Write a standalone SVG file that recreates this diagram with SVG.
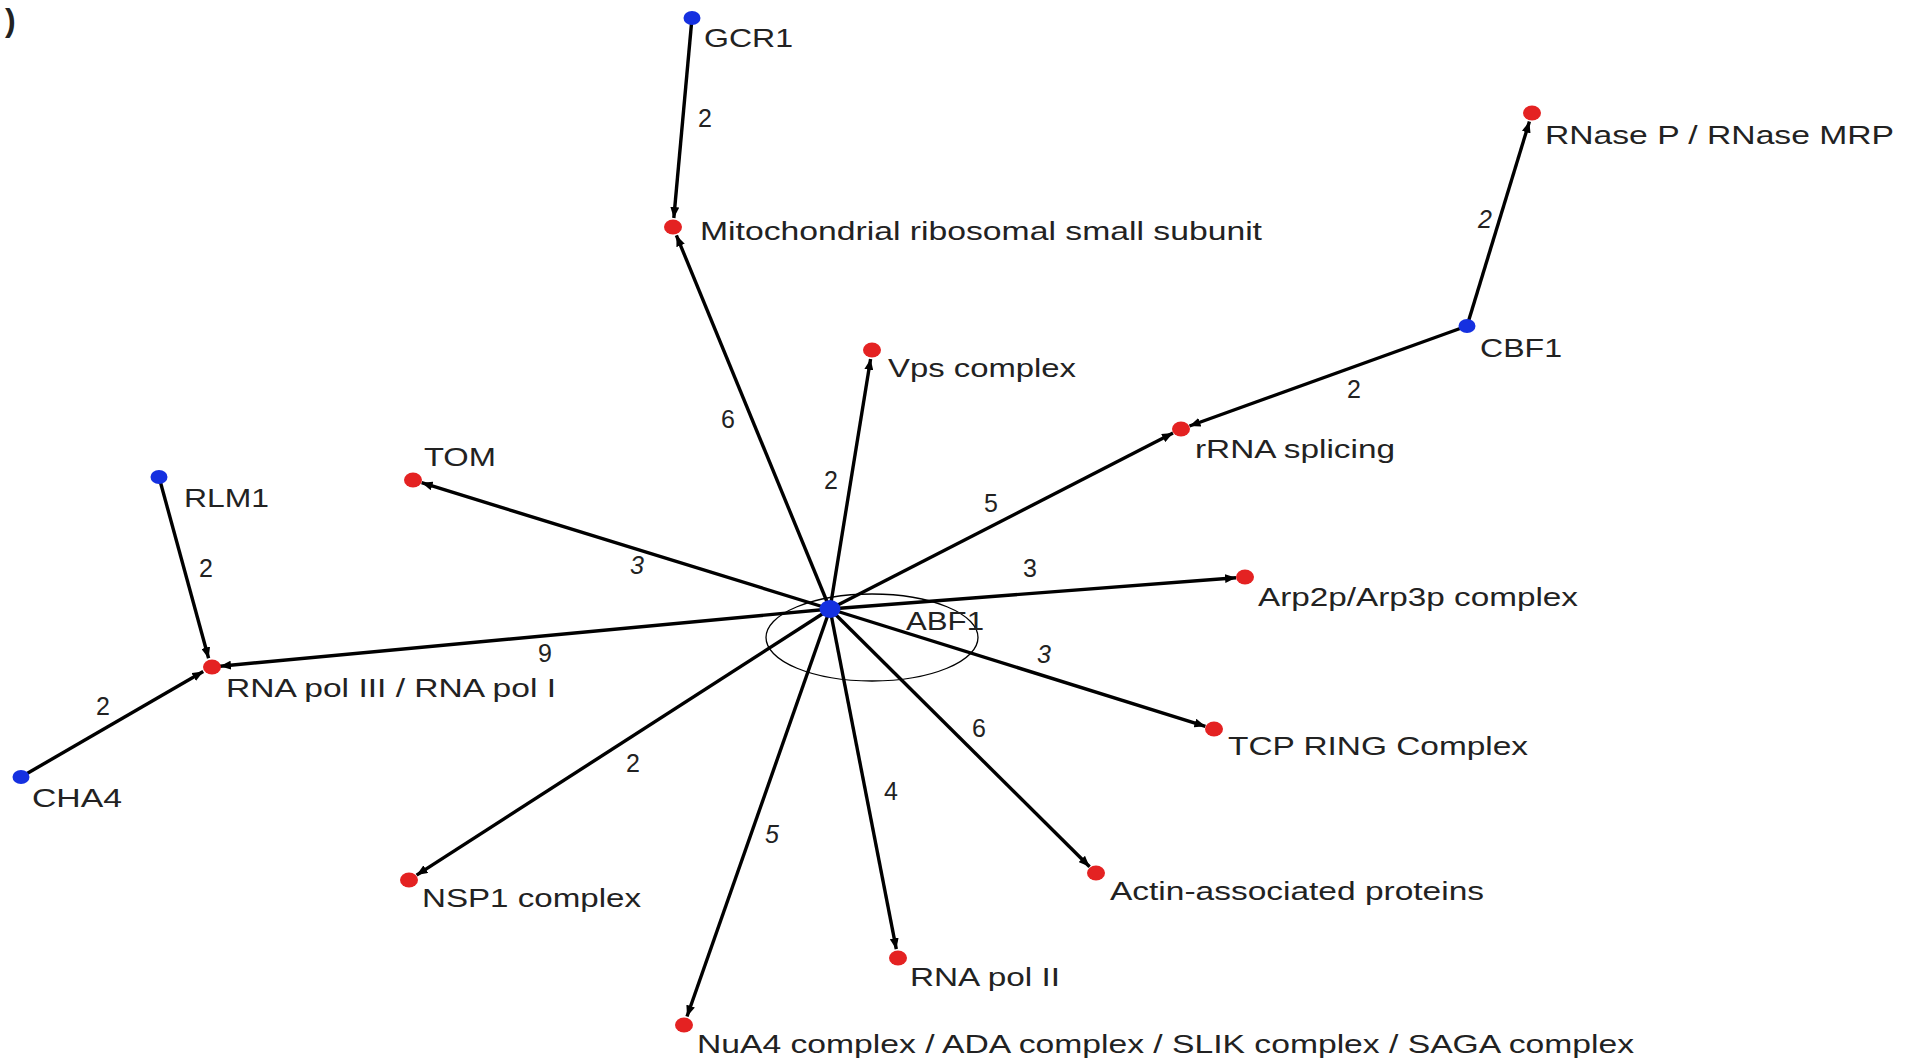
<svg xmlns="http://www.w3.org/2000/svg" width="1910" height="1059" viewBox="0 0 1910 1059">
<style>
.bg{fill:#ffffff}
.edge{stroke:#000;stroke-width:3.4;fill:none;marker-end:url(#arr)}
.tf{fill:#1530e0}
.cx{fill:#e42222}
.lbl{font-family:"Liberation Sans",Arial,sans-serif;font-size:25px;fill:#222}
.num{font-family:"Liberation Sans",Arial,sans-serif;font-size:25px;fill:#222;text-anchor:middle}
.it{font-style:italic}
.hl{fill:none;stroke:#000;stroke-width:1.3}
</style>
<defs>
<marker id="arr" markerUnits="userSpaceOnUse" markerWidth="11" markerHeight="9" refX="11" refY="4.5" orient="auto">
<path d="M0,0 L11,4.5 L0,9 z" fill="#000"/>
</marker>
</defs>
<rect class="bg" x="0" y="0" width="1910" height="1059"/>
<text class="lbl" x="5" y="31" style="font-size:32px;font-weight:bold">)</text>
<g id="connectors">
<line class="edge" x1="692" y1="18" x2="673.8" y2="218"/>
<line class="edge" x1="830" y1="609" x2="676.4" y2="235.3"/>
<line class="edge" x1="830" y1="609" x2="870.6" y2="358.9"/>
<line class="edge" x1="830" y1="609" x2="1173" y2="433.1"/>
<line class="edge" x1="1467" y1="326" x2="1189.5" y2="426"/>
<line class="edge" x1="1467" y1="326" x2="1529.4" y2="121.6"/>
<line class="edge" x1="830" y1="609" x2="421.6" y2="482.7"/>
<line class="edge" x1="159" y1="477" x2="208.6" y2="658.3"/>
<line class="edge" x1="830" y1="609" x2="220" y2="666.2"/>
<line class="edge" x1="21" y1="777" x2="203.2" y2="671.5"/>
<line class="edge" x1="830" y1="609" x2="1236" y2="577.7"/>
<line class="edge" x1="830" y1="609" x2="1205.4" y2="726.3"/>
<line class="edge" x1="830" y1="609" x2="1089.6" y2="866.7"/>
<line class="edge" x1="830" y1="609" x2="896.3" y2="949.2"/>
<line class="edge" x1="830" y1="609" x2="687" y2="1016.5"/>
<line class="edge" x1="830" y1="609" x2="416.6" y2="875.1"/>
<text class="num" x="705" y="127">2</text>
<text class="num" x="728" y="428">6</text>
<text class="num" x="831" y="489">2</text>
<text class="num" x="991" y="512">5</text>
<text class="num" x="1354" y="398">2</text>
<text class="num it" x="1485" y="228">2</text>
<text class="num it" x="637" y="574">3</text>
<text class="num" x="206" y="577">2</text>
<text class="num" x="545" y="662">9</text>
<text class="num" x="103" y="715">2</text>
<text class="num" x="1030" y="577">3</text>
<text class="num it" x="1044" y="663">3</text>
<text class="num" x="979" y="737">6</text>
<text class="num" x="891" y="800">4</text>
<text class="num it" x="772" y="843">5</text>
<text class="num" x="633" y="772">2</text>
</g>
<ellipse class="hl" cx="872" cy="637.5" rx="106" ry="43.5"/>
<g id="ABF1"><ellipse class="tf" cx="830" cy="609" rx="10.5" ry="9"/><text class="lbl" x="906" y="630" textLength="78" lengthAdjust="spacingAndGlyphs">ABF1</text></g>
<g id="GCR1"><ellipse class="tf" cx="692" cy="18" rx="8.5" ry="7"/><text class="lbl" x="704" y="47" textLength="89" lengthAdjust="spacingAndGlyphs">GCR1</text></g>
<g id="CBF1"><ellipse class="tf" cx="1467" cy="326" rx="8.5" ry="7"/><text class="lbl" x="1480" y="357" textLength="82" lengthAdjust="spacingAndGlyphs">CBF1</text></g>
<g id="RLM1"><ellipse class="tf" cx="159" cy="477" rx="8.5" ry="7"/><text class="lbl" x="184" y="507" textLength="85" lengthAdjust="spacingAndGlyphs">RLM1</text></g>
<g id="CHA4"><ellipse class="tf" cx="21" cy="777" rx="8.5" ry="7"/><text class="lbl" x="32" y="807" textLength="90" lengthAdjust="spacingAndGlyphs">CHA4</text></g>
<g id="mito"><ellipse class="cx" cx="673" cy="227" rx="9" ry="7.5"/><text class="lbl" x="700" y="240" textLength="562" lengthAdjust="spacingAndGlyphs">Mitochondrial ribosomal small subunit</text></g>
<g id="vps"><ellipse class="cx" cx="872" cy="350" rx="9" ry="7.5"/><text class="lbl" x="888" y="377" textLength="188" lengthAdjust="spacingAndGlyphs">Vps complex</text></g>
<g id="rnase"><ellipse class="cx" cx="1532" cy="113" rx="9" ry="7.5"/><text class="lbl" x="1545" y="144" textLength="349" lengthAdjust="spacingAndGlyphs">RNase P / RNase MRP</text></g>
<g id="rrna"><ellipse class="cx" cx="1181" cy="429" rx="9" ry="7.5"/><text class="lbl" x="1195" y="458" textLength="200" lengthAdjust="spacingAndGlyphs">rRNA splicing</text></g>
<g id="tom"><ellipse class="cx" cx="413" cy="480" rx="9" ry="7.5"/><text class="lbl" x="424" y="466" textLength="72" lengthAdjust="spacingAndGlyphs">TOM</text></g>
<g id="rnapol3"><ellipse class="cx" cx="212" cy="667" rx="9" ry="7.5"/><text class="lbl" x="226" y="697" textLength="330" lengthAdjust="spacingAndGlyphs">RNA pol III / RNA pol I</text></g>
<g id="arp"><ellipse class="cx" cx="1245" cy="577" rx="9" ry="7.5"/><text class="lbl" x="1258" y="606" textLength="320" lengthAdjust="spacingAndGlyphs">Arp2p/Arp3p complex</text></g>
<g id="tcp"><ellipse class="cx" cx="1214" cy="729" rx="9" ry="7.5"/><text class="lbl" x="1228" y="755" textLength="300" lengthAdjust="spacingAndGlyphs">TCP RING Complex</text></g>
<g id="actin"><ellipse class="cx" cx="1096" cy="873" rx="9" ry="7.5"/><text class="lbl" x="1110" y="900" textLength="374" lengthAdjust="spacingAndGlyphs">Actin-associated proteins</text></g>
<g id="rnapol2"><ellipse class="cx" cx="898" cy="958" rx="9" ry="7.5"/><text class="lbl" x="910" y="986" textLength="150" lengthAdjust="spacingAndGlyphs">RNA pol II</text></g>
<g id="nua4"><ellipse class="cx" cx="684" cy="1025" rx="9" ry="7.5"/><text class="lbl" x="697" y="1053" textLength="937" lengthAdjust="spacingAndGlyphs">NuA4 complex / ADA complex / SLIK complex / SAGA complex</text></g>
<g id="nsp1"><ellipse class="cx" cx="409" cy="880" rx="9" ry="7.5"/><text class="lbl" x="422" y="907" textLength="219" lengthAdjust="spacingAndGlyphs">NSP1 complex</text></g>
</svg>
